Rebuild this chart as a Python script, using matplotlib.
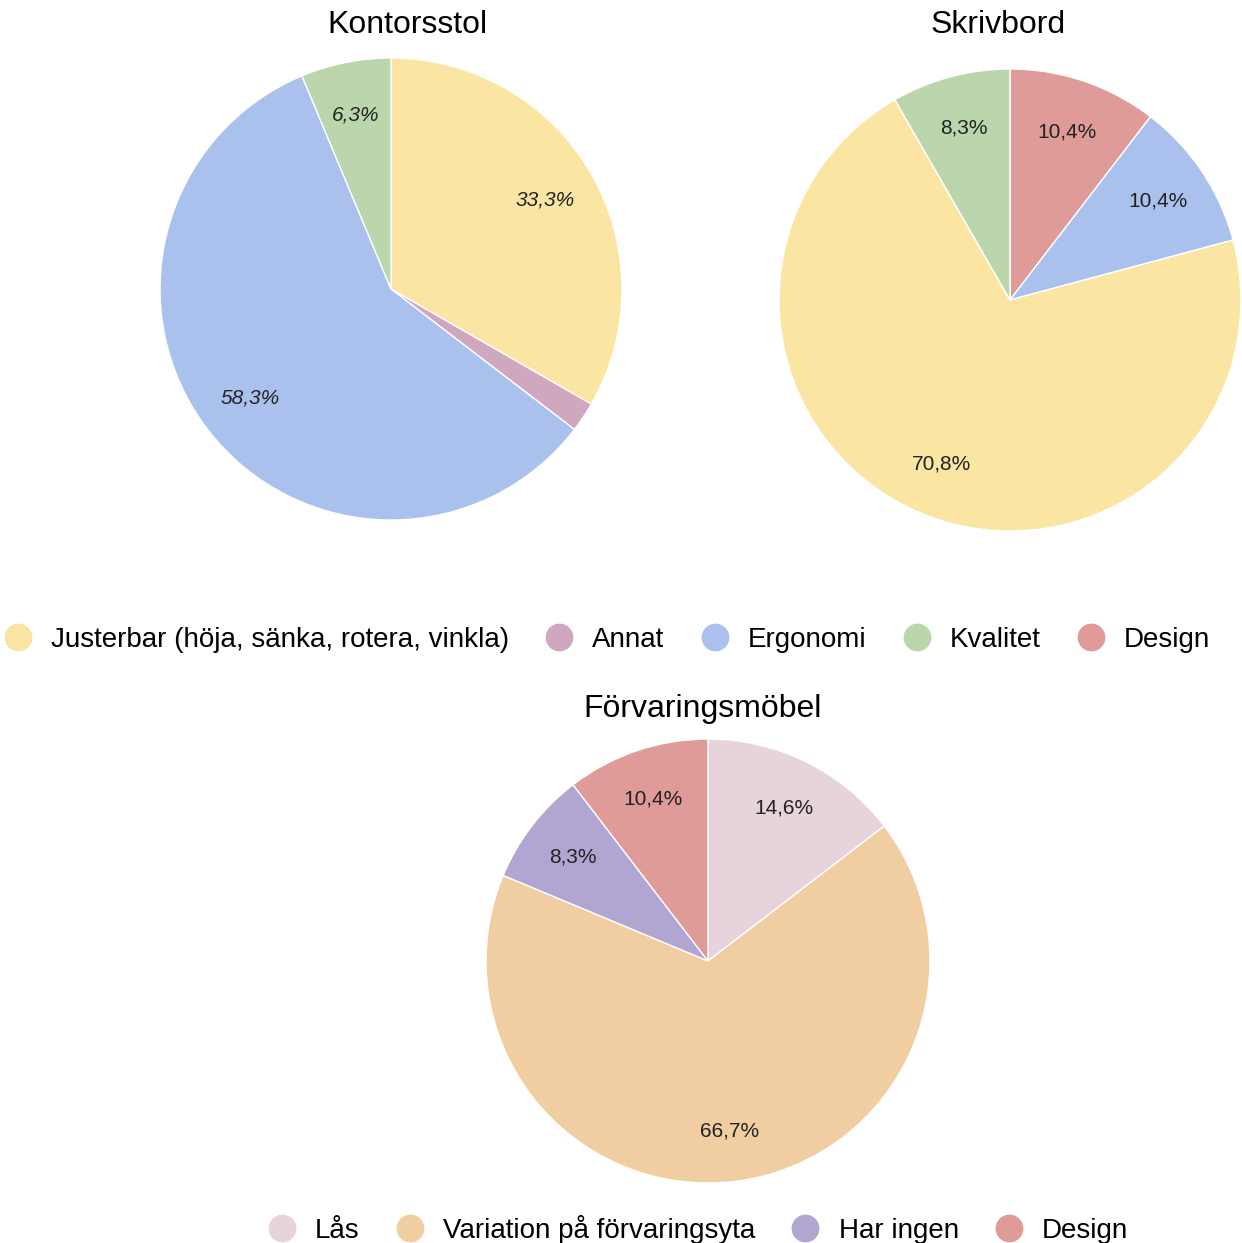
import matplotlib.pyplot as plt
from matplotlib.lines import Line2D

plt.rcParams['font.family'] = ['Liberation Sans', 'DejaVu Sans']

# Kontorsstol
stol_labels = ['Justerbar (höja, sänka, rotera, vinkla)', 'Annat', 'Ergonomi', 'Kvalitet']
stol_values = [33.3, 2.1, 58.3, 6.3]

# Skrivbord (clockwise from top)
bord_labels = ['Design', 'Ergonomi', 'Justerbar (höja, sänka, rotera, vinkla)', 'Kvalitet']
bord_values = [10.4, 10.4, 70.8, 8.3]

# Förvaringsmöbel
forv_labels = ['Lås', 'Variation på förvaringsyta', 'Har ingen', 'Design']
forv_values = [14.6, 66.7, 8.3, 10.4]

top_legend = ['Justerbar (höja, sänka, rotera, vinkla)', 'Annat', 'Ergonomi', 'Kvalitet', 'Design']

colors = {
    'Justerbar (höja, sänka, rotera, vinkla)': '#fae5a2',
    'Annat': '#cfa8bf',
    'Ergonomi': '#aac1ee',
    'Kvalitet': '#bbd6ac',
    'Design': '#de9b98',
    'Lås': '#e6d3dc',
    'Variation på förvaringsyta': '#f0cea1',
    'Har ingen': '#b1a5d2',
}

W, H = 1242, 1243
fig = plt.figure(figsize=(W / 100, H / 100), dpi=100)


def pie_axes(cx, cy, r):
    return fig.add_axes([(cx - r) / W, (H - cy - r) / H, 2 * r / W, 2 * r / H])


def draw_pie(ax, labels, values, italic=False):
    wedges, texts, autotexts = ax.pie(
        values, colors=[colors[l] for l in labels], startangle=90, counterclock=False,
        autopct='%1.1f', pctdistance=0.77, radius=1,
        wedgeprops=dict(edgecolor='white', linewidth=1),
        textprops=dict(fontsize=15, color='#222222', style='italic' if italic else 'normal'))
    # show the survey's own rounded shares, not renormalised ones
    for t, v in zip(autotexts, values):
        t.set_text(f'{v:.1f}'.replace('.', ',') + '%' if v >= 3 else '')
    ax.set_xlim(-1, 1)
    ax.set_ylim(-1, 1)
    ax.axis('off')


ax1 = pie_axes(391, 289, 231)
draw_pie(ax1, stol_labels, stol_values, italic=True)
ax2 = pie_axes(1010, 300, 231)
draw_pie(ax2, bord_labels, bord_values)
ax3 = pie_axes(708, 961, 222)
draw_pie(ax3, forv_labels, forv_values)

fig.text(407 / W, 1 - 25 / H, 'Kontorsstol', ha='center', va='center', fontsize=23)
fig.text(998 / W, 1 - 25 / H, 'Skrivbord', ha='center', va='center', fontsize=23)
fig.text(703 / W, 1 - 709 / H, 'Förvaringsmöbel', ha='center', va='center', fontsize=23)


def legend_handles(labels):
    return [Line2D([0], [0], marker='o', linestyle='none', markersize=20,
                   markerfacecolor=colors[l], markeredgecolor='none') for l in labels]


leg_kw = dict(frameon=False, fontsize=20, handlelength=1.0, handletextpad=0.7,
              columnspacing=1.3, borderpad=0, loc='center')
fig.legend(legend_handles(top_legend), top_legend, ncol=len(top_legend),
           bbox_to_anchor=(607 / W, 1 - 640 / H), **leg_kw)
fig.legend(legend_handles(forv_labels), forv_labels, ncol=len(forv_labels),
           bbox_to_anchor=(698 / W, 1 - 1229 / H), **leg_kw)

fig.savefig('out.png', dpi=100)
